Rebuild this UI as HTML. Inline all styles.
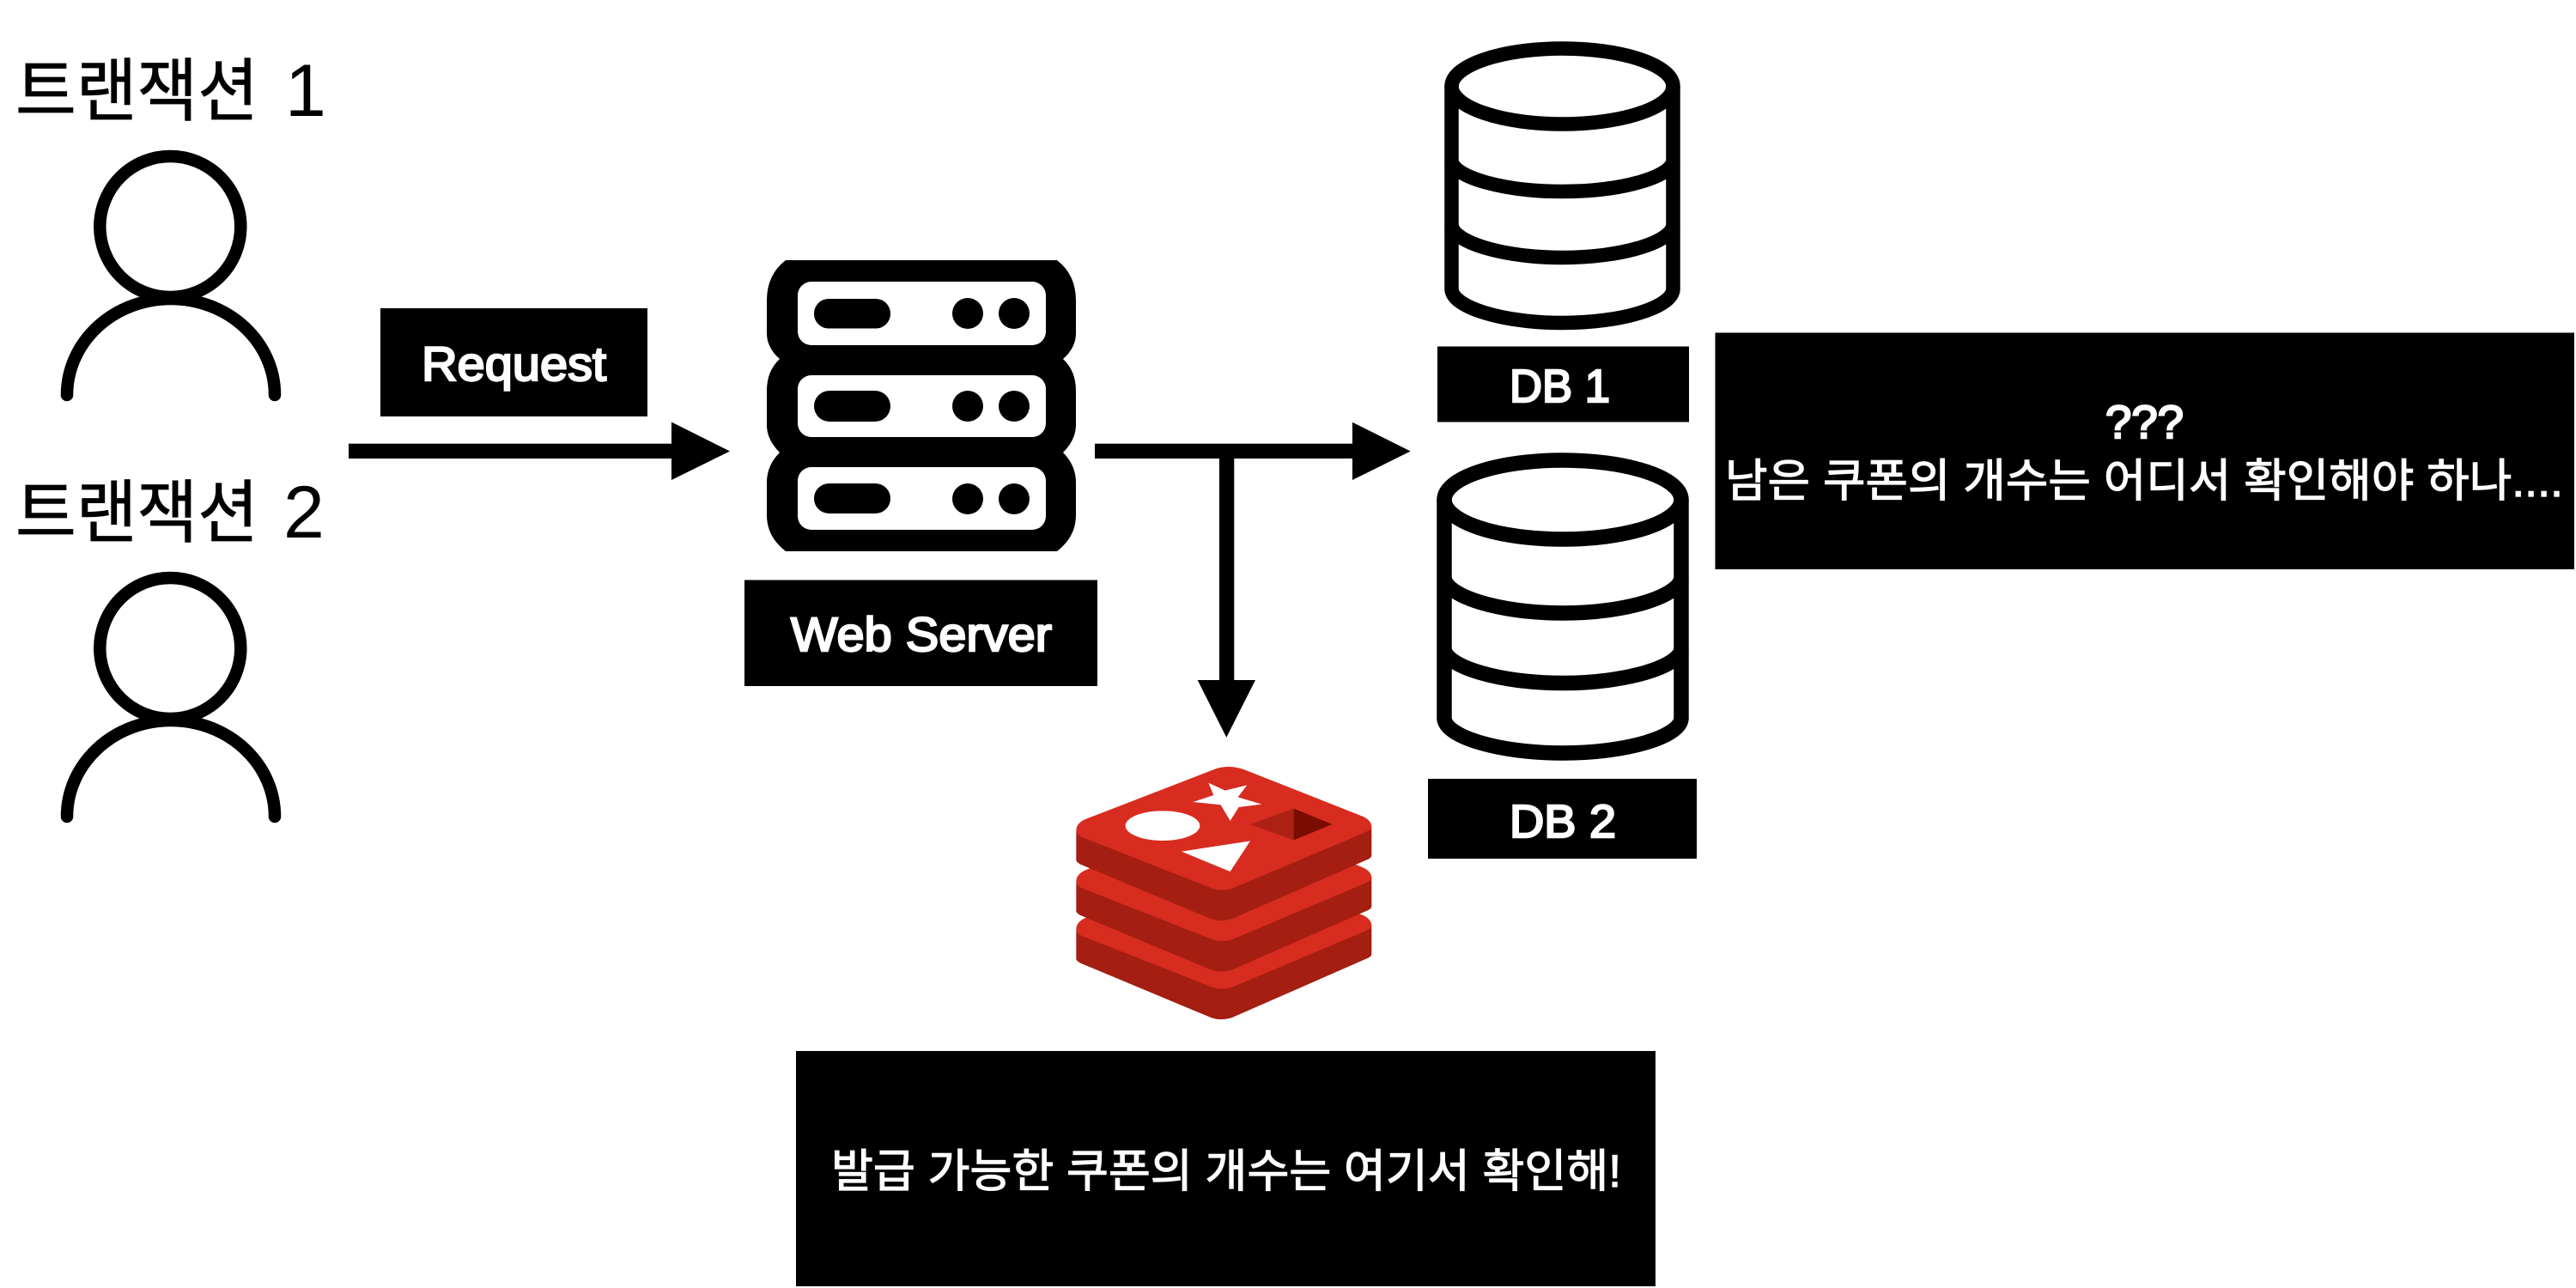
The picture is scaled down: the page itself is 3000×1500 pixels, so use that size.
<!DOCTYPE html>
<html lang="ko"><head><meta charset="utf-8"><title>Diagram</title>
<style>html,body{margin:0;padding:0;background:#fff}svg{display:block}
.k{font-family:"Liberation Sans","Noto Sans CJK KR",sans-serif}
.l{font-family:"Liberation Sans",sans-serif}
.w{fill:#fff;font-weight:400;stroke:#fff;stroke-width:2.4px}
.b{stroke:#000;stroke-width:.8px}
</style></head><body>
<svg xmlns="http://www.w3.org/2000/svg" width="3000" height="1500" viewBox="0 0 3000 1500">
<rect width="3000" height="1500" fill="#fff"/>
<defs>
<g id="person" fill="none" stroke="#000" stroke-width="14.5" stroke-linecap="round">
<circle cx="198.3" cy="264" r="82"/>
<path d="M78 460 A121 112 0 0 1 320 460"/>
</g>
<g id="rl">
<path d="M160 325 V425 Q160 432 175 440 L635 632 Q668 642 705 630 L1180 422 Q1192 416 1192 408 V305 Z" fill="#A41E11"/>
<path d="M160 322 Q160 295 195 281 L650 105 Q695 92 745 108 L1160 272 Q1192 286 1192 310 Q1192 318 1170 328 L710 522 Q670 538 630 522 L180 345 Q160 336 160 322 Z" fill="#D82C20"/>
</g>
</defs>

<text class="k b" x="18" y="134" font-size="80" textLength="283" lengthAdjust="spacingAndGlyphs">트랜잭션</text>
<text class="l" x="332" y="135" font-size="86">1</text>
<use href="#person"/>
<text class="k b" x="18" y="625" font-size="80" textLength="283" lengthAdjust="spacingAndGlyphs">트랜잭션</text>
<text class="l" x="330" y="626" font-size="86">2</text>
<use href="#person" y="491"/>

<rect x="443" y="359" width="311" height="126"/>
<text class="l w" x="491" y="443" font-size="56" textLength="215" lengthAdjust="spacingAndGlyphs">Request</text>
<rect x="406" y="516.7" width="380" height="17.3"/>
<polygon points="782,491.5 850,525.5 782,559"/>

<path d="M915 303 H1231 Q1253 320 1253 350 V388 Q1253 405 1238 418 Q1253 432 1253 455 V495 Q1253 512 1238 527 Q1253 542 1253 562 V600 Q1253 625 1231 642 H915 Q893 625 893 600 V562 Q893 542 908 527 Q893 512 893 495 V455 Q893 432 908 418 Q893 405 893 388 V350 Q893 320 915 303 Z"/>
<g fill="#fff">
<rect x="929" y="328" width="289" height="74" rx="16"/>
<rect x="929" y="437" width="289" height="72" rx="16"/>
<rect x="929" y="544" width="289" height="73" rx="16"/>
</g>
<rect x="948" y="348" width="89" height="34.500" rx="17"/>
<rect x="948" y="455" width="89" height="36" rx="18"/>
<rect x="948" y="563" width="89" height="35" rx="17.500"/>
<circle cx="1127" cy="365" r="18"/><circle cx="1181" cy="365" r="18"/>
<circle cx="1127" cy="473" r="18"/><circle cx="1181" cy="473" r="18"/>
<circle cx="1127" cy="581" r="18"/><circle cx="1181" cy="581" r="18"/>

<rect x="867" y="675.500" width="411" height="123.500"/>
<text class="l w" x="921" y="758" font-size="56" textLength="304" lengthAdjust="spacingAndGlyphs">Web Server</text>

<rect x="1275" y="516.7" width="304" height="17.3"/>
<polygon points="1575,491.7 1642.7,525.5 1575,559"/>
<rect x="1420" y="525" width="17.300" height="270"/>
<polygon points="1394.700,792 1462,792 1428.300,858.700"/>

<g fill="none" stroke="#000" stroke-width="16.500">
<ellipse cx="1819.500" cy="100.500" rx="129" ry="44"/>
<path d="M1690.500 100 V337 C1692 358 1750 376 1819.500 376 C1889 376 1947 358 1948.500 337 V100"/>
<path d="M1690.500 187 C1692 206 1750 223 1819.500 223 C1889 223 1947 206 1948.500 187"/>
<path d="M1690.500 262 C1692 282 1750 300 1819.500 300 C1889 300 1947 282 1948.500 262"/>
</g>
<rect x="1674" y="403.500" width="293" height="88"/>
<text class="l w" x="1758" y="468" font-size="54" textLength="117" lengthAdjust="spacingAndGlyphs">DB 1</text>

<g fill="none" stroke="#000" stroke-width="17.500">
<ellipse cx="1820" cy="582" rx="138" ry="46"/>
<path d="M1682 582 V837 C1684 858 1745 877 1820 877 C1895 877 1956 858 1958 837 V582"/>
<path d="M1682 673 C1684 694 1745 714 1820 714 C1895 714 1956 694 1958 673"/>
<path d="M1682 756 C1684 776 1745 795.500 1820 795.500 C1895 795.500 1956 776 1958 756"/>
</g>
<rect x="1663" y="907" width="313" height="93"/>
<text class="l w" x="1758" y="975" font-size="54" textLength="124" lengthAdjust="spacingAndGlyphs">DB 2</text>

<rect x="1997.500" y="387.500" width="1000.500" height="275.500"/>
<text class="l w" x="2452" y="510" font-size="54" textLength="91" lengthAdjust="spacingAndGlyphs">???</text>
<text class="k w" x="2009" y="578" font-size="53" textLength="976" lengthAdjust="spacingAndGlyphs" style="stroke-width:1.2px">남은 쿠폰의 개수는 어디서 확인해야 하나....</text>

<g transform="translate(1200 860) scale(.33333)">
<use href="#rl" y="345"/>
<use href="#rl" y="178"/>
<use href="#rl"/>
<ellipse cx="462" cy="305" rx="130" ry="52" fill="#fff"/>
<polygon fill="#fff" points="622,155 680,182 757,163 725,205 808,230 728,240 698,288 665,232 568,222 640,198"/>
<polygon fill="#fff" points="528,395 768,358 698,465"/>
<polygon fill="#AD2115" points="768,300 920,245 920,355"/>
<polygon fill="#7A0C00" points="920,245 1055,300 920,355"/>
</g>

<rect x="927" y="1224" width="1001" height="274"/>
<text class="k w" x="968" y="1382" font-size="53" textLength="920" lengthAdjust="spacingAndGlyphs" style="stroke-width:1.2px">발급 가능한 쿠폰의 개수는 여기서 확인해!</text>
</svg>
</body></html>
